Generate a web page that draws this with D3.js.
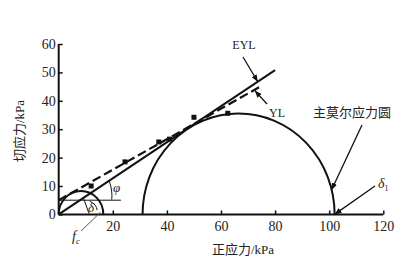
<!DOCTYPE html>
<html>
<head>
<meta charset="utf-8">
<script src="https://cdn.jsdelivr.net/npm/d3@7"></script>
<style>
  body { margin: 0; background: #fff; }
  svg text { font-family: "Liberation Serif", "Noto Sans CJK SC", serif; fill: #222; }
</style>
</head>
<body>
<div id="chart"></div>
<script>
const WIDTH = 412
const HEIGHT = 268

// tick values
const xTicks = [20, 40, 60, 80, 100, 120]
const yTicks = [0, 10, 20, 30, 40, 50, 60]

// measured points (normal stress, shear stress)
const pointSigma = [12, 24.5, 37, 41, 50, 62.5]
const pointTau = [10, 18.5, 25.5, 26.5, 34.2, 35.6]

// envelope lines, endpoints [sigma, tau]
const eylLine = [[0, 0], [80, 50.8]]
const ylLine = [[0, 5], [74.5, 45]]
const cohesionLine = [[0, 5], [23, 5]]

// Mohr circles: [sigma3, sigma1]
const mainCircle = [31, 102]
const smallCircle = [0, 16.5]

const svg = d3.select('#chart').append('svg')
  .attr('width', WIDTH)
  .attr('height', HEIGHT)

const x = d3.scaleLinear().domain([0, 120]).range([58.7, 383.3])
const y = d3.scaleLinear().domain([0, 60]).range([214.4, 44])

const defs = svg.append('defs')
defs.append('marker')
  .attr('id', 'arrow')
  .attr('viewBox', '0 0 10 10')
  .attr('refX', 10).attr('refY', 5)
  .attr('markerWidth', 7).attr('markerHeight', 7)
  .attr('markerUnits', 'userSpaceOnUse')
  .attr('orient', 'auto')
  .append('path').attr('d', 'M0,1 L10,5 L0,9 Z').attr('fill', '#111')

// axes
const xAxis = d3.axisBottom(x).tickValues(xTicks).tickSizeInner(-4).tickSizeOuter(0).tickPadding(7)
const yAxis = d3.axisLeft(y).tickValues(yTicks).tickSizeInner(-4).tickSizeOuter(0).tickPadding(3)

const gx = svg.append('g').attr('transform', `translate(0,${y(0)})`).call(xAxis)
const gy = svg.append('g').attr('transform', `translate(${x(0)},0)`).call(yAxis)
gx.select('.domain').attr('stroke', '#111').attr('stroke-width', 2).attr('d', `M${x(0)},0H${x(120)}`)
gy.select('.domain').attr('stroke', '#111').attr('stroke-width', 2).attr('d', `M0,${y(0)}V${y(60)}`)
svg.selectAll('.tick line').attr('stroke', '#111').attr('stroke-width', 1.5)
svg.selectAll('.tick text').attr('font-size', 14).attr('fill', '#222')
  .style('font-family', '"Liberation Serif", serif')

// axis titles
svg.append('text')
  .attr('x', 243).attr('y', 254)
  .attr('text-anchor', 'middle')
  .attr('font-size', 13)
  .text('正应力/kPa')

svg.append('text')
  .attr('transform', 'translate(24,131) rotate(-90)')
  .attr('text-anchor', 'middle')
  .attr('font-size', 13)
  .text('切应力/kPa')

const line = d3.line().x((d) => x(d[0])).y((d) => y(d[1]))

// Mohr circles as upper half arcs
const arcPath = (c) => {
  const rx = (x(c[1]) - x(c[0])) / 2
  const ry = y(0) - y((c[1] - c[0]) / 2)
  return `M${x(c[0])},${y(0)} A${rx},${ry} 0 0 1 ${x(c[1])},${y(0)}`
}
svg.append('path').attr('d', arcPath(mainCircle))
  .attr('fill', 'none').attr('stroke', '#111').attr('stroke-width', 2)
svg.append('path').attr('d', arcPath(smallCircle))
  .attr('fill', 'none').attr('stroke', '#111').attr('stroke-width', 2)

// envelopes
svg.append('path').attr('d', line(cohesionLine))
  .attr('fill', 'none').attr('stroke', '#111').attr('stroke-width', 1)
svg.append('path').attr('d', line(eylLine))
  .attr('fill', 'none').attr('stroke', '#111').attr('stroke-width', 2)
svg.append('path').attr('d', line(ylLine))
  .attr('fill', 'none').attr('stroke', '#111').attr('stroke-width', 2.2)
  .attr('stroke-dasharray', '9,4')

// points
svg.append('g').selectAll('rect')
  .data(pointSigma.map((s, i) => [s, pointTau[i]]))
  .enter()
  .append('rect')
  .attr('x', (d) => x(d[0]) - 2.5)
  .attr('y', (d) => y(d[1]) - 2.5)
  .attr('width', 5).attr('height', 5)
  .attr('fill', '#111')

// angle marks
svg.append('path')
  .attr('d', `M${x(18.7)},${y(11.8)} Q${x(20)},${y(8)} ${x(19.6)},${y(5.2)}`)
  .attr('fill', 'none').attr('stroke', '#111').attr('stroke-width', 1)
svg.append('path').attr('d', line([[9.3, 5.4], [11.2, 0.3]]))
  .attr('fill', 'none').attr('stroke', '#111').attr('stroke-width', 1)
svg.append('path')
  .attr('d', `M${x(11.6)},${y(4.6)} Q${x(14)},${y(3.5)} ${x(14.2)},${y(1.5)}`)
  .attr('fill', 'none').attr('stroke', '#111').attr('stroke-width', 1)

svg.append('text').attr('x', 113).attr('y', 192).attr('font-size', 13)
  .attr('font-style', 'italic').text('φ')
svg.append('text').attr('x', 88).attr('y', 212).attr('font-size', 13)
  .attr('font-style', 'italic').text('δ')

// f_c label
svg.append('path').attr('d', `M81,231 L${x(15.5)},${y(0.8)}`)
  .attr('stroke', '#555').attr('stroke-width', 1)
const fc = svg.append('text').attr('x', 72).attr('y', 241).attr('font-size', 14)
  .attr('font-style', 'italic')
fc.append('tspan').text('f')
fc.append('tspan').attr('font-size', 9).attr('dy', 3).text('c')

// annotations with arrows
const annotate = (from, to) => svg.append('path')
  .attr('d', `M${from[0]},${from[1]} L${to[0]},${to[1]}`)
  .attr('stroke', '#111').attr('stroke-width', 1.3)
  .attr('marker-end', 'url(#arrow)')

svg.append('text').attr('x', 244).attr('y', 49).attr('font-size', 12)
  .attr('text-anchor', 'middle').text('EYL')
annotate([243, 57], [x(73.6), y(46.7)])

svg.append('text').attr('x', 269).attr('y', 117).attr('font-size', 12).text('YL')
annotate([267, 104], [x(72.5), y(43.6)])

svg.append('text').attr('x', 313).attr('y', 117).attr('font-size', 13).text('主莫尔应力圆')
annotate([362, 125], [331.5, 190])

const d1 = svg.append('text').attr('x', 378).attr('y', 188).attr('font-size', 14)
  .attr('font-style', 'italic')
d1.append('tspan').text('δ')
d1.append('tspan').attr('font-size', 8).attr('font-style', 'normal').attr('dy', 3).text('1')
annotate([375, 186], [x(102), y(0)])
</script>
</body>
</html>
